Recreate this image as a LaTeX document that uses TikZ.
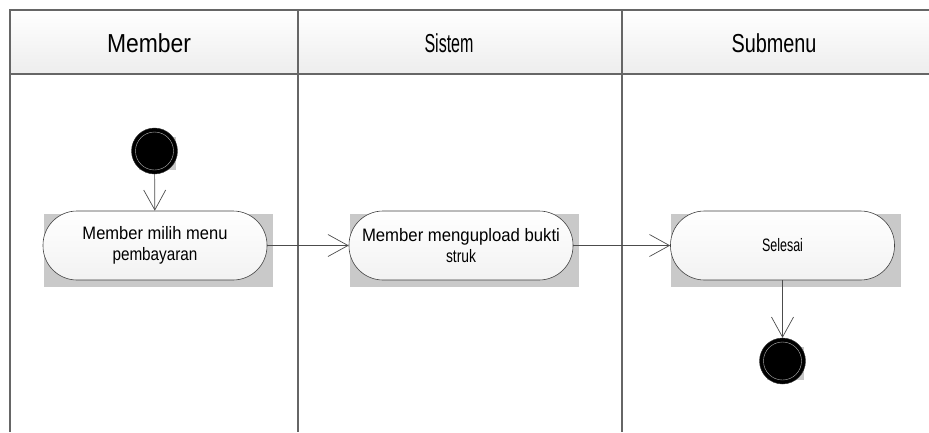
\documentclass[tikz,border=0pt]{standalone}
\usepackage{fontspec}
\usepackage{graphicx}
\setmainfont{Liberation Sans}
\usetikzlibrary{arrows.meta,backgrounds}

\newcommand{\sqz}[2]{\resizebox{#1pt}{\height}{#2}}

\begin{document}
\begin{tikzpicture}[x=1pt,y=-1pt,
    lane/.style={draw=gray!80!black,line width=1.2pt},
    head/.style={font=\fontsize{26}{28}\selectfont,inner sep=0pt,anchor=base},
    act/.style={draw=black!75,line width=0.6pt,rounded corners=34pt,
      minimum width=224pt,minimum height=69pt,inner sep=0pt,
      top color=white,bottom color=gray!10,align=center,
      font=\fontsize{18}{21}\selectfont},
    dot/.style={circle,fill=black,draw=black!80,minimum size=46pt,inner sep=0pt},
    shade/.style={fill=gray!42},
    flow/.style={draw=black!70,line width=0.7pt,
      -{Straight Barb[length=20pt,width=22pt,line width=0.7pt]}}]
      \useasboundingbox (0,0) rectangle (929,432);
      % swimlanes
      \fill[top color=white,bottom color=gray!14] (10,10) rectangle (929,74);
      \draw[lane] (10,432) |- (929,10);
      \draw[lane] (10,74) -- (929,74);
      \draw[lane] (298,10) -- (298,432);
      \draw[lane] (622,10) -- (622,432);
      \node[head] (hmember) at (149,52) {\sqz{84}{Member}};
      \node[head] (hsistem) at (449,52) {\sqz{49}{Sistem}};
      \node[head] (hsubmenu) at (774,52) {\sqz{85}{Submenu}};
      % activities
      \node[dot] (start) at (154.5,151) {};
      \draw[gray!60,line width=0.4pt] (start) circle (19pt);
      \node[act] (pilih) at (155,245.5) {\sqz{145}{Member milih menu}\\\sqz{85}{pembayaran}};
      \node[act] (upload) at (461,245.5) {\sqz{198}{Member mengupload bukti}\\\sqz{30}{struk}};
      \node[act] (selesai) at (782.5,245.5) {\sqz{41}{Selesai}};
      \node[dot] (end) at (782.5,361) {};
      \draw[gray!60,line width=0.4pt] (end) circle (19pt);
      \begin{scope}[on background layer]
        \foreach \n in {pilih,upload,selesai}
          \fill[shade] ([shift={(1,3)}]\n.north west) rectangle ([shift={(6,7)}]\n.south east);
        \foreach \n in {start,end}
          \fill[shade] ([shift={(1,2)}]\n.north west) rectangle ([shift={(5,3)}]\n.south east);
      \end{scope}
      % flows
      \draw[flow] (start) -- (pilih);
      \draw[flow] (pilih) -- (upload);
      \draw[flow] (upload) -- (selesai);
      \draw[flow] (selesai) -- (end);
\end{tikzpicture}
\end{document}
